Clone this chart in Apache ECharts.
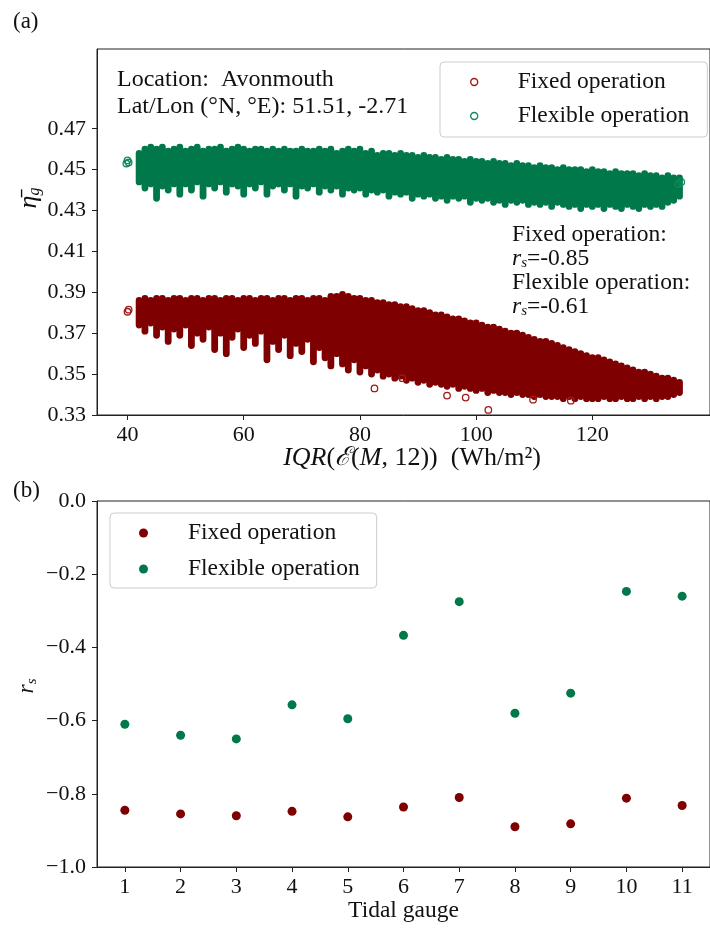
<!DOCTYPE html>
<html><head><meta charset="utf-8">
<script src="https://cdn.jsdelivr.net/npm/echarts@6/dist/echarts.min.js"></script>
<style>html,body{margin:0;padding:0;background:#fff}#c{width:710px;height:930px}</style>
</head><body><div id="c"></div>
<script>
// ---- Panel (a): envelopes of the dense scatter clouds: [IQR, low, high]
const fixedBand = [
[42,0.374,0.386],[43,0.371,0.387],[44,0.375,0.386],[45,0.369,0.387],[46,0.373,0.387],[47,0.366,0.386],
[48,0.372,0.387],[49,0.369,0.387],[50,0.374,0.386],[51,0.364,0.387],[52,0.370,0.387],[53,0.367,0.386],
[54,0.373,0.387],[55,0.362,0.387],[56,0.370,0.386],[57,0.360,0.387],[58,0.368,0.387],[59,0.372,0.386],
[60,0.363,0.387],[61,0.369,0.387],[62,0.365,0.386],[63,0.371,0.387],[64,0.357,0.387],[65,0.366,0.386],
[66,0.362,0.387],[67,0.369,0.387],[68,0.359,0.386],[69,0.365,0.387],[70,0.361,0.387],[71,0.367,0.386],
[72,0.356,0.387],[73,0.363,0.387],[74,0.358,0.386],[75,0.354,0.388],[76,0.360,0.388],[77,0.355,0.389],
[78,0.352,0.388],[79,0.357,0.387],[80,0.351,0.387],[81,0.354,0.386],[82,0.350,0.386],[83,0.352,0.385],
[84,0.349,0.385],[85,0.350,0.384],[86,0.348,0.384],[87,0.349,0.383],[88,0.347,0.383],[89,0.348,0.382],
[90,0.346,0.381],[91,0.347,0.381],[92,0.345,0.380],[93,0.346,0.379],[94,0.345,0.379],[95,0.344,0.378],
[96,0.345,0.377],[97,0.343,0.377],[98,0.344,0.376],[99,0.343,0.375],[100,0.342,0.375],[101,0.343,0.374],
[102,0.341,0.373],[103,0.342,0.373],[104,0.341,0.372],[105,0.341,0.371],[106,0.340,0.370],[107,0.341,0.370],
[108,0.340,0.369],[109,0.340,0.368],[110,0.339,0.367],[111,0.340,0.366],[112,0.339,0.366],[113,0.339,0.365],
[114,0.339,0.364],[115,0.338,0.363],[116,0.339,0.362],[117,0.338,0.361],[118,0.339,0.360],[119,0.338,0.359],
[120,0.338,0.358],[121,0.338,0.358],[122,0.339,0.357],[123,0.338,0.356],[124,0.338,0.355],[125,0.339,0.354],
[126,0.338,0.353],[127,0.338,0.352],[128,0.339,0.351],[129,0.338,0.351],[130,0.339,0.350],[131,0.338,0.349],
[132,0.339,0.348],[133,0.339,0.348],[134,0.340,0.347],[135,0.341,0.346]
];
const flexibleBand = [
[42,0.444,0.458],[43,0.441,0.460],[44,0.443,0.461],[45,0.436,0.460],[46,0.442,0.461],[47,0.440,0.459],
[48,0.443,0.460],[49,0.438,0.461],[50,0.443,0.459],[51,0.440,0.460],[52,0.444,0.461],[53,0.437,0.459],
[54,0.443,0.460],[55,0.441,0.460],[56,0.444,0.461],[57,0.439,0.459],[58,0.443,0.460],[59,0.442,0.461],
[60,0.438,0.460],[61,0.443,0.459],[62,0.441,0.460],[63,0.444,0.460],[64,0.438,0.459],[65,0.442,0.460],
[66,0.443,0.459],[67,0.440,0.460],[68,0.443,0.459],[69,0.437,0.459],[70,0.442,0.460],[71,0.441,0.459],
[72,0.443,0.459],[73,0.439,0.460],[74,0.442,0.459],[75,0.440,0.460],[76,0.442,0.458],[77,0.438,0.459],
[78,0.441,0.460],[79,0.440,0.459],[80,0.441,0.460],[81,0.438,0.458],[82,0.440,0.459],[83,0.439,0.457],
[84,0.440,0.458],[85,0.437,0.458],[86,0.439,0.457],[87,0.438,0.458],[88,0.439,0.457],[89,0.436,0.457],
[90,0.438,0.456],[91,0.437,0.457],[92,0.438,0.456],[93,0.436,0.456],[94,0.437,0.455],[95,0.435,0.456],
[96,0.437,0.455],[97,0.436,0.455],[98,0.437,0.454],[99,0.434,0.455],[100,0.436,0.454],[101,0.435,0.454],
[102,0.436,0.453],[103,0.434,0.454],[104,0.435,0.453],[105,0.433,0.453],[106,0.435,0.452],[107,0.434,0.453],
[108,0.435,0.452],[109,0.433,0.452],[110,0.434,0.451],[111,0.433,0.452],[112,0.434,0.451],[113,0.432,0.451],
[114,0.434,0.450],[115,0.433,0.451],[116,0.432,0.450],[117,0.433,0.450],[118,0.431,0.450],[119,0.433,0.449],
[120,0.432,0.450],[121,0.433,0.449],[122,0.431,0.449],[123,0.433,0.448],[124,0.432,0.449],[125,0.431,0.448],
[126,0.433,0.448],[127,0.432,0.448],[128,0.431,0.447],[129,0.433,0.448],[130,0.432,0.447],[131,0.433,0.447],
[132,0.432,0.446],[133,0.434,0.447],[134,0.435,0.446],[135,0.437,0.446]
];
// isolated hollow markers
const fixedOutliers = [[40.0,0.3805],[40.2,0.3815],[82.5,0.3430],[87.3,0.3480],[95.0,0.3395],[98.2,0.3385],[102.1,0.3325],[109.8,0.3375],[116.3,0.3370]];
const flexibleOutliers = [[39.8,0.4530],[40.0,0.4545],[40.2,0.4535],[135.3,0.4440],[134.8,0.4430]];
const topXTicks = [40,60,80,100,120];
const topYTicks = [0.33,0.35,0.37,0.39,0.41,0.43,0.45,0.47];

// ---- Panel (b)
const gauges = ['1','2','3','4','5','6','7','8','9','10','11'];
const fixedRs    = [-0.845,-0.855,-0.860,-0.848,-0.863,-0.836,-0.810,-0.890,-0.882,-0.812,-0.832];
const flexibleRs = [-0.610,-0.640,-0.650,-0.557,-0.595,-0.367,-0.275,-0.580,-0.525,-0.247,-0.260];

const RED = '#7f0000', GREEN = '#00784a';
const FF = '"Liberation Serif","DejaVu Serif",serif';
const TXT = 23.5, TICK = 22;
const axisColor = '#222';

function band(color){
  return function(params, api){
    const x = api.value(0), lo = api.value(1), hi = api.value(2);
    const a = api.coord([x, hi]), b = api.coord([x, lo]);
    const r = 3.4;
    return {type:'rect', shape:{x:a[0]-r, y:a[1]-r, width:2*r, height:b[1]-a[1]+2*r, r:r}, style:{fill:color}};
  };
}

const chart = echarts.init(document.getElementById('c'), null, {renderer:'canvas'});
const lbl = {fontSize:TICK, fontFamily:FF, color:'#111'};
chart.setOption({
  animation:false,
  backgroundColor:'#fff',
  grid:[
    {left:97, top:49, width:625, height:366, show:true, borderColor:axisColor, borderWidth:1},
    {left:97, top:501, width:622, height:366, show:true, borderColor:axisColor, borderWidth:1}
  ],
  xAxis:[
    {gridIndex:0, type:'value', min:34.75, max:140.25,
     axisLine:{show:true, onZero:false, lineStyle:{color:axisColor}},
     axisTick:{show:true, length:5, customValues:topXTicks, lineStyle:{color:axisColor}},
     axisLabel:Object.assign({customValues:topXTicks, margin:9}, lbl),
     splitLine:{show:false}},
    {gridIndex:1, type:'category', data:gauges, boundaryGap:true,
     axisLine:{show:true, onZero:false, lineStyle:{color:axisColor}},
     axisTick:{show:true, length:5, alignWithLabel:true, lineStyle:{color:axisColor}},
     axisLabel:Object.assign({margin:9, interval:0}, lbl),
     splitLine:{show:false},
     name:'Tidal gauge', nameLocation:'middle', nameGap:32,
     nameTextStyle:{fontSize:TXT, fontFamily:FF, color:'#111'}}
  ],
  yAxis:[
    {gridIndex:0, type:'value', min:0.33, max:0.509,
     axisLine:{show:true, onZero:false, lineStyle:{color:axisColor}},
     axisTick:{show:true, length:5, customValues:topYTicks, lineStyle:{color:axisColor}},
     axisLabel:Object.assign({customValues:topYTicks, margin:11, formatter:v=>(+v).toFixed(2)}, lbl),
     splitLine:{show:false}},
    {gridIndex:1, type:'value', min:-1, max:0, interval:0.2,
     axisLine:{show:true, onZero:false, lineStyle:{color:axisColor}},
     axisTick:{show:true, length:5, lineStyle:{color:axisColor}},
     axisLabel:Object.assign({margin:11, formatter:v=>(v < -1e-9 ? '\u2212' : '') + Math.abs(v).toFixed(1)}, lbl),
     splitLine:{show:false}}
  ],
  legend:[
    {left:440, top:62, orient:'vertical', itemWidth:7, itemHeight:7, itemGap:10,
     padding:[8,18,9,30], borderColor:'#ccc', borderWidth:1, borderRadius:4,
     backgroundColor:'rgba(255,255,255,0.8)', selectedMode:false,
     textStyle:{fontSize:TXT, fontFamily:FF, color:'#111', lineHeight:24, padding:[0,0,0,35]},
     data:[
       {name:'Fixed operation', icon:'circle', itemStyle:{color:'rgba(255,255,255,0)', borderColor:'#a01818', borderWidth:1.4}},
       {name:'Flexible operation', icon:'circle', itemStyle:{color:'rgba(255,255,255,0)', borderColor:'#108a5a', borderWidth:1.4}}
     ]},
    {left:110, top:513, orient:'vertical', itemWidth:9, itemHeight:9, itemGap:12,
     padding:[8,17,7,29], borderColor:'#ccc', borderWidth:1, borderRadius:4,
     backgroundColor:'rgba(255,255,255,0.8)', selectedMode:false,
     textStyle:{fontSize:TXT, fontFamily:FF, color:'#111', lineHeight:24, padding:[0,0,0,35]},
     data:[
       {name:'Fixed operation', icon:'circle', itemStyle:{color:RED, borderWidth:0, opacity:1}},
       {name:'Flexible operation', icon:'circle', itemStyle:{color:GREEN, borderWidth:0, opacity:1}}
     ]}
  ],
  graphic:[
    {type:'text', x:13, y:22, style:{text:'(a)', font:'23px '+FF, fill:'#111', textVerticalAlign:'middle'}},
    {type:'text', x:13, y:491, style:{text:'(b)', font:'23px '+FF, fill:'#111', textVerticalAlign:'middle'}},
    {type:'text', z:10, top:66, left:117, style:{text:'Location:  Avonmouth\nLat/Lon (\u00b0N, \u00b0E): 51.51, -2.71', font:'24px '+FF, fill:'#111', lineHeight:27}},
    {type:'text', left:512, top:223, z:10, style:{
      text:'Fixed operation:\n{r|r}{s|s}=-0.85\nFlexible operation:\n{r|r}{s|s}=-0.61',
      font:TXT+'px '+FF, fill:'#111', lineHeight:24,
      rich:{r:{fontStyle:'italic', fontSize:TXT, fontFamily:FF, lineHeight:24}, s:{fontStyle:'italic', fontSize:15, fontFamily:FF, lineHeight:14, verticalAlign:'bottom'}}}},
    {type:'text', x:412, y:458, style:{
      text:'{i|IQR}({c|\u2130}({i|M}, 12))  (Wh/m\u00b2)', font:'26px '+FF, fill:'#111',
      textAlign:'center', textVerticalAlign:'middle',
      rich:{i:{fontStyle:'italic', fontSize:26, fontFamily:FF}, c:{fontSize:26, fontFamily:'"DejaVu Serif",serif', fontStyle:'italic'}}}},
    {type:'text', x:29, y:198, rotation:Math.PI/2, style:{
      text:'{e|\u03b7\u0304}{g|g}', textAlign:'center', textVerticalAlign:'middle', fill:'#111',
      rich:{e:{fontStyle:'italic', fontSize:26, fontFamily:FF, lineHeight:28}, g:{fontStyle:'italic', fontSize:16, fontFamily:FF, lineHeight:14, verticalAlign:'bottom'}}}},
    {type:'text', x:27, y:686, rotation:Math.PI/2, style:{
      text:'{r|r}{s|s}', textAlign:'center', textVerticalAlign:'middle', fill:'#111',
      rich:{r:{fontStyle:'italic', fontSize:TXT, fontFamily:FF, lineHeight:26}, s:{fontStyle:'italic', fontSize:15, fontFamily:FF, lineHeight:14, verticalAlign:'bottom'}}}}
  ],
  series:[
    {name:'Fixed operation', type:'custom', xAxisIndex:0, yAxisIndex:0, data:fixedBand, renderItem:band(RED), encode:{x:0, y:[1,2]}, clip:true, itemStyle:{color:RED}},
    {name:'Flexible operation', type:'custom', xAxisIndex:0, yAxisIndex:0, data:flexibleBand, renderItem:band(GREEN), encode:{x:0, y:[1,2]}, clip:true, itemStyle:{color:GREEN}},
    {name:'Fixed operation', type:'scatter', xAxisIndex:0, yAxisIndex:0, data:fixedOutliers, symbol:'circle', symbolSize:6.5,
     itemStyle:{color:'rgba(255,255,255,0)', borderColor:'#a01818', borderWidth:1.3, opacity:1}},
    {name:'Flexible operation', type:'scatter', xAxisIndex:0, yAxisIndex:0, data:flexibleOutliers, symbol:'circle', symbolSize:6.5,
     itemStyle:{color:'rgba(255,255,255,0)', borderColor:'#108a5a', borderWidth:1.3, opacity:1}},
    {name:'Fixed operation', type:'scatter', xAxisIndex:1, yAxisIndex:1, data:fixedRs, symbol:'circle', symbolSize:9, itemStyle:{color:RED, opacity:1}},
    {name:'Flexible operation', type:'scatter', xAxisIndex:1, yAxisIndex:1, data:flexibleRs, symbol:'circle', symbolSize:9, itemStyle:{color:GREEN, opacity:1}}
  ]
});
</script></body></html>
